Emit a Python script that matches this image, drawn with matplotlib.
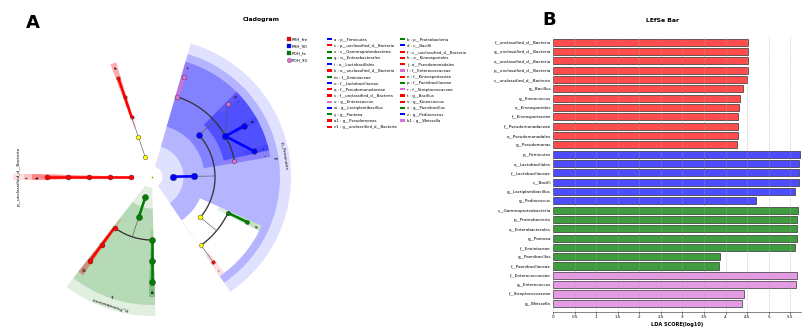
import numpy as np
import matplotlib.pyplot as plt
from matplotlib.patches import Wedge, Patch
from matplotlib.lines import Line2D

# groups and their colours
groups = ['PRH_fre', 'PRH_90', 'POH_fe', 'POH_90']
node_colors = {'PRH_fre': '#ff0000', 'PRH_90': '#0000ff', 'POH_fe': '#008000', 'POH_90': '#da70d6'}
bar_colors = {'PRH_fre': '#ff4d4d', 'PRH_90': '#4d4dff', 'POH_fe': '#3f9c3f', 'POH_90': '#e49be4'}

# LEfSe bar data, top to bottom
lda_taxa = ['f__unclassified_d__Bacteria', 'g__unclassified_d__Bacteria', 'o__unclassified_d__Bacteria',
            'p__unclassified_d__Bacteria', 'c__unclassified_d__Bacteria', 'g__Bacillus', 'g__Kineococcus',
            'o__Kineosporiales', 'f__Kineosporiaceae', 'f__Pseudomonadaceae', 'o__Pseudomonadales',
            'g__Pseudomonas', 'p__Firmicutes', 'o__Lactobacillales', 'f__Lactobacillaceae', 'c__Bacilli',
            'g__Lactiplantibacillus', 'g__Pediococcus', 'c__Gammaproteobacteria', 'p__Proteobacteria',
            'o__Enterobacterales', 'g__Pantoea', 'f__Erwiniaceae', 'g__Paenibacillus', 'f__Paenibacillaceae',
            'f__Enterococcaceae', 'g__Enterococcus', 'f__Streptococcaceae', 'g__Weissella']
lda_scores = [4.53, 4.52, 4.51, 4.51, 4.50, 4.40, 4.33, 4.31, 4.30, 4.28, 4.28, 4.26,
              5.72, 5.71, 5.70, 5.70, 5.62, 4.71,
              5.69, 5.65, 5.65, 5.65, 5.62, 3.87, 3.84,
              5.66, 5.64, 4.42, 4.38]
lda_groups = ['PRH_fre'] * 12 + ['PRH_90'] * 6 + ['POH_fe'] * 7 + ['POH_90'] * 4

# cladogram tree: taxon and index of its parent (-1 = root d__Bacteria)
clade_names = ['p__Firmicutes', 'c__Bacilli', 'o__Lactobacillales', 'f__Enterococcaceae', 'g__Enterococcus',
               'f__Lactobacillaceae', 'g__Weissella', 'g__Lactiplantibacillus', 'g__Pediococcus',
               'f__Streptococcaceae', 'o__Bacillales', 'f__Paenibacillaceae', 'g__Paenibacillus',
               'f__Bacillaceae', 'g__Bacillus', 'p__Proteobacteria', 'c__Gammaproteobacteria',
               'o__Enterobacterales', 'f__Erwiniaceae', 'g__Pantoea', 'o__Pseudomonadales',
               'f__Pseudomonadaceae', 'g__Pseudomonas', 'p__Actinobacteriota', 'c__Actinomycetia',
               'o__Kineosporiales', 'f__Kineosporiaceae', 'g__Kineococcus', 'p__unclassified_d__Bacteria',
               'c__unclassified_d__Bacteria', 'o__unclassified_d__Bacteria', 'f__unclassified_d__Bacteria',
               'g__unclassified_d__Bacteria']
clade_parents = [-1, 0, 1, 2, 3, 2, 5, 5, 5, 2, 1, 10, 11, 10, 13,
                 -1, 15, 16, 17, 18, 16, 20, 21,
                 -1, 23, 24, 25, 26,
                 -1, 28, 29, 30, 31]

# layout: angle (deg) of the leaves, node marker diameters (px)
leaf_angles = {4: 72.4, 6: 43.8, 7: 29.0, 8: 14.3, 9: 11.0, 12: -25.3, 14: -54.3,
               19: -90.0, 22: -126.5, 27: 108.8, 32: 180.0}
node_px = [6.5, 6.5, 6, 5, 5, 6.5, 4.5, 6, 5.5, 4.5, 5, 4.5, 4, 4, 3.5,
           6, 6, 6, 6, 6, 5, 5, 5,
           4.5, 4.5, 3.5, 3.5, 3.5,
           5, 5, 5, 5, 5]

PX = 0.72  # points per pixel at dpi 100
fig = plt.figure(figsize=(8.11, 3.29), dpi=100)

# ---------------- cladogram ----------------
ax = fig.add_axes([0, 0, 300 / 811, 304 / 329])
ax.set_xlim(-152, 148)
ax.set_ylim(-152, 152)
ax.axis('off')

n = len(clade_names)
group_of = dict(zip(lda_taxa, lda_groups))
cgroup = [group_of.get(nm) for nm in clade_names]
level = ['pcofg'.index(nm[0]) + 1 for nm in clade_names]
children = {i: [j for j in range(n) if clade_parents[j] == i] for i in range(n)}
step = 21.0
rad = [step * l for l in level]

ang = [None] * n
lo = [None] * n
hi = [None] * n


def place(i):
    if not children[i]:
        ang[i] = lo[i] = hi[i] = leaf_angles[i]
        return
    for k in children[i]:
        place(k)
    ka = [ang[k] for k in children[i]]
    ang[i] = (min(ka) + max(ka)) / 2
    lo[i] = min(lo[k] for k in children[i])
    hi[i] = max(hi[k] for k in children[i])


for i in range(n):
    if clade_parents[i] == -1:
        place(i)


def xy(r, a):
    return r * np.cos(np.radians(a)), r * np.sin(np.radians(a))


# highlights, level by level
alphas = {1: 0.12, 2: 0.19, 3: 0.28, 4: 0.38, 5: 0.22}
r_outer = {1: 139, 2: 128}
for lev in range(1, 6):
    for i in range(n):
        if level[i] != lev:
            continue
        t1, t2 = lo[i] - 1.4, hi[i] + 1.4
        r_in = rad[i] - 10.5
        if cgroup[i] is None:
            ro = 120
            ax.add_patch(Wedge((0, 0), ro, t1, t2, width=ro - r_in, facecolor='white',
                               edgecolor='none', zorder=1))
        else:
            ro = r_outer.get(lev, 120)
            al = alphas[lev] if hi[i] > lo[i] else 0.12
            ax.add_patch(Wedge((0, 0), ro, t1, t2, width=ro - r_in, facecolor=node_colors[cgroup[i]],
                               alpha=al, edgecolor='none', zorder=1))

# branches
for i in range(n):
    kids = children[i]
    if not kids:
        continue
    if len(kids) == 1 or level[kids[0]] == 5:
        for k in kids:
            x0, y0 = xy(rad[i], ang[i])
            x1, y1 = xy(rad[k], ang[k])
            if cgroup[i] is not None and cgroup[i] == cgroup[k]:
                ax.plot([x0, x1], [y0, y1], color=node_colors[cgroup[k]], lw=2.6 * PX,
                        solid_capstyle='butt', zorder=3)
            else:
                ax.plot([x0, x1], [y0, y1], color='#555555', lw=0.6 * PX, zorder=3)
    else:
        rk = rad[kids[0]]
        ka = [ang[k] for k in kids]
        tt = np.linspace(min(ka), max(ka), 100)
        ax.plot(rk * np.cos(np.radians(tt)), rk * np.sin(np.radians(tt)), color='#333333',
                lw=1.3 * PX, zorder=3)
        x0, y0 = xy(rad[i], ang[i])
        x1, y1 = xy(rk, ang[i])
        ax.plot([x0, x1], [y0, y1], color='#555555', lw=0.6 * PX, zorder=3)

# nodes
for i in range(n):
    x, y = xy(rad[i], ang[i])
    col = node_colors[cgroup[i]] if cgroup[i] else '#ffff00'
    ax.plot(x, y, 'o', ms=node_px[i] * PX, mfc=col, mec='#333333', mew=0.3, zorder=4)
ax.plot(0, 0, 'o', ms=1.6 * PX, mfc='#888800', mec='none', zorder=4)

# labels: letters for significant clades, full names for phyla
sig = sorted([i for i in range(n) if cgroup[i]], key=lambda i: (level[i], clade_names[i]))
letters = []
for m in range(len(sig)):
    letters.append(chr(97 + m) if m < 26 else chr(97 + m - 26) + '1')
for m, i in enumerate(sig):
    a = (lo[i] + hi[i]) / 2
    if level[i] == 1:
        x, y = xy(133.5, a)
        ax.text(x, y, clade_names[i], fontsize=3.1, rotation=a - 90, ha='center', va='center',
                rotation_mode='anchor', zorder=5)
        x, y = xy(125, a)
    elif level[i] == 2:
        x, y = xy(124, a)
    else:
        x, y = xy(114, a)
    ax.text(x, y, letters[m], fontsize=2.2, rotation=a - 90, ha='center', va='center',
            rotation_mode='anchor', zorder=5)

# legends
h_groups = [Line2D([], [], ls='none', marker='s', ms=4.2 * PX, mfc=node_colors[g], mec='#333333',
                   mew=0.2) for g in groups[:3]]
h_groups.append(Line2D([], [], ls='none', marker='o', ms=4.6 * PX, mfc=node_colors[groups[3]],
                       mec='#333333', mew=0.2))
fig.legend(h_groups, groups, loc='upper left', bbox_to_anchor=(287 / 811, 1 - 37 / 329),
           fontsize=3.0, frameon=False, handlelength=0.9, handletextpad=0.3, labelspacing=0.72,
           borderpad=0, borderaxespad=0)

h_let = [Patch(facecolor=node_colors[cgroup[i]], edgecolor='none') for i in sig]
l_let = ['%s : %s' % (letters[m], clade_names[i]) for m, i in enumerate(sig)]
order = list(range(0, len(sig), 2)) + list(range(1, len(sig), 2))
fig.legend([h_let[k] for k in order], [l_let[k] for k in order], loc='upper left',
           bbox_to_anchor=(327 / 811, 1 - 37.5 / 329), ncol=2, fontsize=2.8, frameon=False,
           handlelength=1.3, handleheight=0.5, handletextpad=0.45, labelspacing=0.58,
           columnspacing=1.0, borderpad=0, borderaxespad=0)

# ---------------- LEfSe bar ----------------
bx = fig.add_axes([553 / 811, 1 - 311.7 / 329, 248 / 811, 275 / 329])
ypos = np.arange(len(lda_taxa))
bx.barh(ypos, lda_scores, height=0.76, color=[bar_colors[g] for g in lda_groups],
        edgecolor='#333333', linewidth=0.5, zorder=2)
bx.set_xlim(0, 5.75)
bx.set_ylim(len(lda_taxa) - 0.1, -0.6)
bx.set_yticks(ypos)
bx.set_yticklabels(lda_taxa, fontsize=3.0)
bx.tick_params(axis='y', length=0, pad=1.5)
xt = np.arange(0, 5.51, 0.5)
bx.set_xticks(xt)
bx.set_xticklabels(['%g' % v for v in xt], fontsize=3.0)
bx.tick_params(axis='x', length=1.5, width=0.4, pad=1.2)
for s in ['top', 'right', 'left']:
    bx.spines[s].set_visible(False)
bx.spines['bottom'].set_linewidth(0.5)
bx.spines['bottom'].set_color('#555555')
bx.grid(axis='x', linestyle=':', color='#aaaaaa', linewidth=0.5, zorder=3)
bx.set_axisbelow(False)
bx.set_xlabel('LDA SCORE(log10)', fontsize=3.6, fontweight='bold', labelpad=1.5)

# titles and panel letters
fig.text(261 / 811, 1 - 19 / 329, 'Cladogram', fontsize=4.4, fontweight='bold', ha='center', va='center')
fig.text(663 / 811, 1 - 21 / 329, 'LEfSe Bar', fontsize=4.4, fontweight='bold', ha='center', va='center')
fig.text(33 / 811, 1 - 23 / 329, 'A', fontsize=13, fontweight='bold', ha='center', va='center')
fig.text(549 / 811, 1 - 20 / 329, 'B', fontsize=13, fontweight='bold', ha='center', va='center')

fig.savefig('out.png', dpi=100)
